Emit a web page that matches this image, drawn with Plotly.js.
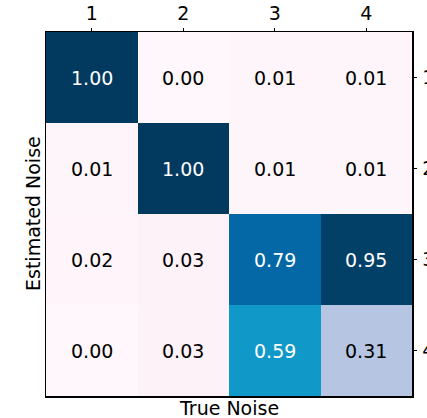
<!DOCTYPE html>
<html><head><meta charset="utf-8">
<script src="https://cdn.plot.ly/plotly-3.0.1.min.js"></script>
<style>html,body{margin:0;padding:0;background:#fff;}#chart{width:427px;height:418px;}</style>
</head><body><div id="chart"></div>
<script>
var trueNoise = [1, 2, 3, 4];
var estNoise = [1, 2, 3, 4];
var tickLabels = ['1', '2', '3', '4'];
var row1 = [1.00, 0.00, 0.01, 0.01];
var row2 = [0.01, 1.00, 0.01, 0.01];
var row3 = [0.02, 0.03, 0.79, 0.95];
var row4 = [0.00, 0.03, 0.59, 0.31];
var z = [row1, row2, row3, row4];

var colorscale = [
  [0.0, '#fff7fb'], [0.03, '#fdf2f8'], [0.31, '#b6c5e1'], [0.45, '#6fb0d6'],
  [0.59, '#0f98c8'], [0.79, '#0568a6'], [0.95, '#034068'], [1.0, '#023a5f']
];

var font = 'DejaVu Sans, sans-serif';
var ann = [];
for (var i = 0; i < z.length; i++) {
  for (var j = 0; j < z[i].length; j++) {
    var v = z[i][j];
    ann.push({x: trueNoise[j], y: estNoise[i], xref: 'x', yref: 'y', text: v.toFixed(2),
      showarrow: false, font: {family: font, size: 19, color: v > 0.5 ? '#ffffff' : '#000000'}});
  }
}
ann.push({text: 'True Noise', xref: 'paper', yref: 'paper', x: 0.5, y: 0, yshift: -12,
  yanchor: 'middle', showarrow: false, font: {family: font, size: 19, color: '#000'}});
ann.push({text: 'Estimated Noise', xref: 'paper', yref: 'paper', x: 0, xshift: -13, y: 0.5,
  xanchor: 'center', textangle: -90, showarrow: false, font: {family: font, size: 19, color: '#000'}});

var trace = {type: 'heatmap', x: trueNoise, y: estNoise, z: z, zmin: 0, zmax: 1,
  colorscale: colorscale, showscale: false, xgap: 0, ygap: 0, hoverinfo: 'none'};

var axisCommon = {type: 'linear', showgrid: false, zeroline: false, ticks: 'outside', ticklen: 3,
  tickwidth: 1, tickcolor: '#000', showline: true, linecolor: '#000', linewidth: 1.5, mirror: true,
  tickmode: 'array', tickvals: trueNoise, ticktext: tickLabels,
  tickfont: {family: font, size: 19, color: '#000'}};

var layout = {
  width: 427, height: 418, margin: {l: 46, r: 15, t: 32, b: 22},
  paper_bgcolor: '#fff', plot_bgcolor: '#fff',
  xaxis: Object.assign({}, axisCommon, {side: 'top', range: [0.5, 4.5]}),
  yaxis: Object.assign({}, axisCommon, {side: 'right', range: [4.5, 0.5], ticklabelstandoff: 2}),
  annotations: ann, showlegend: false
};
Plotly.newPlot('chart', [trace], layout, {staticPlot: true, displayModeBar: false});
</script></body></html>
